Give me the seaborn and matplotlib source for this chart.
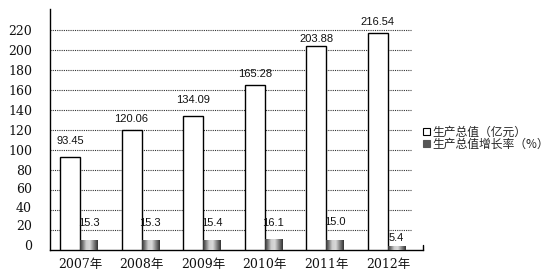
import numpy as np
import pandas as pd
import matplotlib
matplotlib.use("Agg")
import matplotlib.pyplot as plt
import matplotlib.transforms as mtransforms
from matplotlib.colors import LinearSegmentedColormap
from matplotlib.patches import Patch
import seaborn as sns

# ---- data ----
years = ["2007年", "2008年", "2009年", "2010年", "2011年", "2012年"]
output_value = [93.45, 120.06, 134.09, 165.28, 203.88, 216.54]
growth_rate = [15.3, 15.3, 15.4, 16.1, 15.0, 5.4]
y_ticks = [0, 20, 40, 60, 80, 100, 120, 140, 160, 180, 200, 220]
legend_labels = ["生产总值（亿元）", "生产总值增长率（%）"]

# ---- style ----
sns.set_theme(style="white")
plt.rcParams["font.family"] = ["DejaVu Sans", "Noto Sans CJK SC"]
plt.rcParams["axes.unicode_minus"] = False

out_label_offsets = [13, 8, 13, 8, 4, 8]      # px above bar top (baseline)
gr_label_offsets = [14, 14, 14, 13, 15, 5]

df = pd.DataFrame({"year": years, "output": output_value, "growth": growth_rate})

fig = plt.figure(figsize=(5.48, 2.79), dpi=100)
fig.patch.set_facecolor("white")
W, H = 548.0, 279.0
ax = fig.add_axes([50 / W, 29 / H, 373 / W, 241 / H])
ax.set_facecolor("white")

w1, w2 = 0.325, 0.28
sns.barplot(data=df, x="year", y="output", ax=ax, width=w1, color="white",
            edgecolor="black", linewidth=1.0, saturation=1, errorbar=None, zorder=3)
for p in ax.patches:
    p.set_x(p.get_x() - p.get_width() / 2)

ax2 = ax.twinx()
sns.barplot(data=df, x="year", y="growth", ax=ax2, width=w2, color="#888888",
            linewidth=0, saturation=1, errorbar=None, zorder=3)
for p in ax2.patches:
    p.set_x(p.get_x() + p.get_width() / 2)

# cylinder-like gradient for growth bars
cmap = LinearSegmentedColormap.from_list(
    "cyl", [(0.0, "#353535"), (0.35, "#cfcfcf"), (0.55, "#d8d8d8"), (0.8, "#7a7a7a"), (1.0, "#333333")])
grad = np.linspace(0, 1, 64).reshape(1, -1)
for p in list(ax2.patches):
    x0, y0, pw, ph = p.get_x(), p.get_y(), p.get_width(), p.get_height()
    im = ax2.imshow(grad, extent=[x0, x0 + pw, y0, y0 + ph], aspect="auto",
                    cmap=cmap, interpolation="bilinear", zorder=4)
    im.set_clip_path(p)

# limits
ax.set_xlim(-0.487, 5.57)
ax.set_ylim(0, 241)
ax2.set_ylim(0, 362)
ax2.set_xlim(-0.487, 5.57)

# value labels
for p, v, off in zip(ax.patches, output_value, out_label_offsets):
    ax.annotate(f"{v:.2f}", (p.get_x() + p.get_width() / 2, p.get_height()),
                xytext=(0, off), textcoords="offset pixels", ha="center", va="baseline",
                fontsize=8, family="Liberation Sans", color="#111111", zorder=6)
for p, v, off in zip(ax2.patches, growth_rate, gr_label_offsets):
    ax2.annotate(f"{v:.1f}", (p.get_x() + p.get_width() / 2, p.get_height()),
                 xytext=(0, off), textcoords="offset pixels", ha="center", va="baseline",
                 fontsize=8, family="Liberation Sans", color="#111111", zorder=6)

# gridlines (dotted, ending short of the axis end)
ax.hlines(y_ticks[1:], 0, (411 - 50) / 373, transform=ax.get_yaxis_transform(),
          colors="#333333", linestyles=(0, (1, 1)), linewidth=0.8, zorder=1)

# spines
for s in ["top", "right"]:
    ax.spines[s].set_visible(False)
    ax2.spines[s].set_visible(False)
ax2.spines["left"].set_visible(False)
ax2.spines["bottom"].set_visible(False)
ax.spines["left"].set_color("black")
ax.spines["bottom"].set_color("black")
ax.spines["left"].set_linewidth(1.0)
ax.spines["bottom"].set_linewidth(1.0)
ax.plot([1, 1], [0, 5 / 241], transform=ax.transAxes, color="black", lw=1.0, clip_on=False)

# ticks
ax2.set_yticks([])
ax2.set_ylabel("")
ax2.set_xlabel("")
ax.set_xlabel("")
ax.set_ylabel("")
ax.set_yticks(y_ticks)
ax.set_yticklabels([str(t) for t in y_ticks], family="DejaVu Serif", fontsize=9, color="#111111")
ax.tick_params(axis="y", length=0, pad=13)
ax.tick_params(axis="x", length=0, pad=6)
ax.set_xticks(range(len(years)))
ax.set_xticklabels(years, family=["DejaVu Serif", "Noto Sans CJK SC"], fontsize=9, color="#111111")
# lower y labels slightly raised as in reference
raise_px = {0: 5, 20: 5, 40: 3, 60: 2}
for t, lab in zip(y_ticks, ax.get_yticklabels()):
    if t in raise_px:
        lab.set_transform(lab.get_transform() + mtransforms.ScaledTranslation(0, raise_px[t] / 100, fig.dpi_scale_trans))

# legend
handles = [Patch(facecolor="white", edgecolor="black", linewidth=0.8),
           Patch(facecolor="#555555", edgecolor="#555555", linewidth=0.8)]
leg = fig.legend(handles, legend_labels, loc="center left", bbox_to_anchor=(423 / W, 1 - 138 / H),
                 frameon=False, prop={"family": "Noto Sans CJK SC", "size": 8.5},
                 handlelength=0.6, handleheight=0.6, handletextpad=0.2,
                 labelspacing=-0.1, borderpad=0, borderaxespad=0)

fig.savefig("out.png", dpi=100, facecolor="white")
